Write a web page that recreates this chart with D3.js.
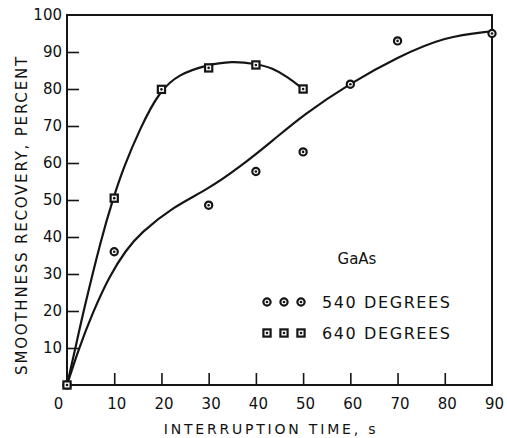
<!DOCTYPE html>
<html>
<head>
<meta charset="utf-8">
<script src="https://cdn.jsdelivr.net/npm/d3@7"></script>
<style>
  body { margin: 0; background: #fff; }
  text { font-family: "DejaVu Sans", sans-serif; fill: #111; }
</style>
</head>
<body>
<div id="chartContainer"></div>
<script>
// measured points
const pts540 = [[0, 0], [10, 36], [30, 48.6], [40, 57.7], [50, 63], [60, 81.3], [70, 93], [90, 95]];
const pts640 = [[0, 0], [10, 50.5], [20, 79.9], [30, 85.7], [40, 86.5], [50, 80]];

// fitted curves as drawn on the figure
const fit540 = [[0, 0], [2.4, 9.5], [5.4, 19.5], [9, 29.5], [12.5, 36.5], [15.5, 41], [22.5, 48.2],
  [29.6, 52.7], [36.7, 59], [43.7, 66.2], [50, 73], [60, 81.6], [70, 88.6], [80, 94.2], [90, 95.6]];
const fit640 = [[0, 0], [1.7, 9.5], [3.4, 19.5], [7.35, 40.1], [9.8, 50.5], [11.9, 58.5], [15.5, 69.5],
  [19.7, 79.7], [23.8, 84], [29.2, 86.4], [35, 87.6], [40, 86.8], [43.5, 85.7], [46.8, 83.2], [50, 80]];

const xTicks = [0, 10, 20, 30, 40, 50, 60, 70, 80, 90];
const yTicks = [10, 20, 30, 40, 50, 60, 70, 80, 90, 100];
const legendLabels = ["540 DEGREES", "640 DEGREES"];

const svg = d3.select("#chartContainer")
    .append("svg")
    .attr("width", 507)
    .attr("height", 438);

const margin = { top: 15, right: 15, bottom: 53, left: 67 };
const width = 507 - margin.left - margin.right;
const height = 438 - margin.top - margin.bottom;

const x = d3.scaleLinear().domain([0, 90]).range([margin.left, margin.left + width]);
const y = d3.scaleLinear().domain([0, 100]).range([margin.top + height, margin.top]);

const ink = "#151515";

// X axis
const xAxis = svg.append("g")
    .attr("transform", "translate(0," + y(0) + ")")
    .call(d3.axisBottom(x).tickValues(xTicks).tickSizeInner(-12).tickSizeOuter(0).tickPadding(13));
xAxis.select(".domain").remove();
xAxis.selectAll(".tick line")
    .attr("stroke", ink).attr("stroke-width", 1.6)
    .filter(d => d === 0 || d === 90).remove();
xAxis.selectAll(".tick text")
    .style("font-size", "15px")
    .attr("dx", d => d === 0 ? -9 : 2);

// Y axis
const yAxis = svg.append("g")
    .attr("transform", "translate(" + x(0) + ",0)")
    .call(d3.axisLeft(y).tickValues(yTicks).tickSizeInner(-12).tickSizeOuter(0).tickPadding(5));
yAxis.select(".domain").remove();
yAxis.selectAll(".tick line")
    .attr("stroke", ink).attr("stroke-width", 1.6)
    .filter(d => d === 100).remove();
yAxis.selectAll(".tick text")
    .style("font-size", "15px");

// frame
svg.append("rect")
    .attr("x", x(0))
    .attr("y", y(100))
    .attr("width", x(90) - x(0))
    .attr("height", y(0) - y(100))
    .attr("fill", "none")
    .attr("stroke", ink)
    .attr("stroke-width", 2);

// fitted curves
const line = d3.line()
    .x(d => x(d[0]))
    .y(d => y(d[1]))
    .curve(d3.curveBasis);

[fit540, fit640].forEach(function(f) {
    svg.append("path")
        .datum(f)
        .attr("d", line)
        .attr("fill", "none")
        .attr("stroke", ink)
        .attr("stroke-width", 2.2);
});

// markers
function circleMark(g, cx, cy) {
    g.append("circle").attr("cx", cx).attr("cy", cy).attr("r", 3.6)
        .attr("fill", "#fff").attr("stroke", ink).attr("stroke-width", 2.2);
    g.append("circle").attr("cx", cx).attr("cy", cy).attr("r", 1.3).attr("fill", ink);
}
function squareMark(g, cx, cy) {
    g.append("rect").attr("x", cx - 3.6).attr("y", cy - 3.6).attr("width", 7.2).attr("height", 7.2)
        .attr("fill", "#fff").attr("stroke", ink).attr("stroke-width", 2.2);
    g.append("circle").attr("cx", cx).attr("cy", cy).attr("r", 1.3).attr("fill", ink);
}

const marks = svg.append("g");
pts540.forEach(d => circleMark(marks, x(d[0]), y(d[1])));
pts640.forEach(d => squareMark(marks, x(d[0]), y(d[1])));

// legend
svg.append("text")
    .attr("x", 357)
    .attr("y", 264)
    .attr("text-anchor", "middle")
    .style("font-size", "15px")
    .text("GaAs");

legendLabels.forEach(function(label, i) {
    const ly = 302 + i * 31;
    [267, 284, 301].forEach(function(mx) {
        if (i === 0) circleMark(svg, mx, ly);
        else squareMark(svg, mx, ly);
    });
    svg.append("text")
        .attr("x", 322)
        .attr("y", ly + 6)
        .style("font-size", "16px")
        .style("letter-spacing", "1.6px")
        .text(label);
});

// axis titles
svg.append("text")
    .attr("x", 271)
    .attr("y", 434)
    .attr("text-anchor", "middle")
    .style("font-size", "14px")
    .style("letter-spacing", "2.8px")
    .text("INTERRUPTION TIME, s");

svg.append("text")
    .attr("transform", "translate(27,215) rotate(-90)")
    .attr("text-anchor", "middle")
    .style("font-size", "15px")
    .style("letter-spacing", "1.8px")
    .text("SMOOTHNESS RECOVERY, PERCENT");
</script>
</body>
</html>
